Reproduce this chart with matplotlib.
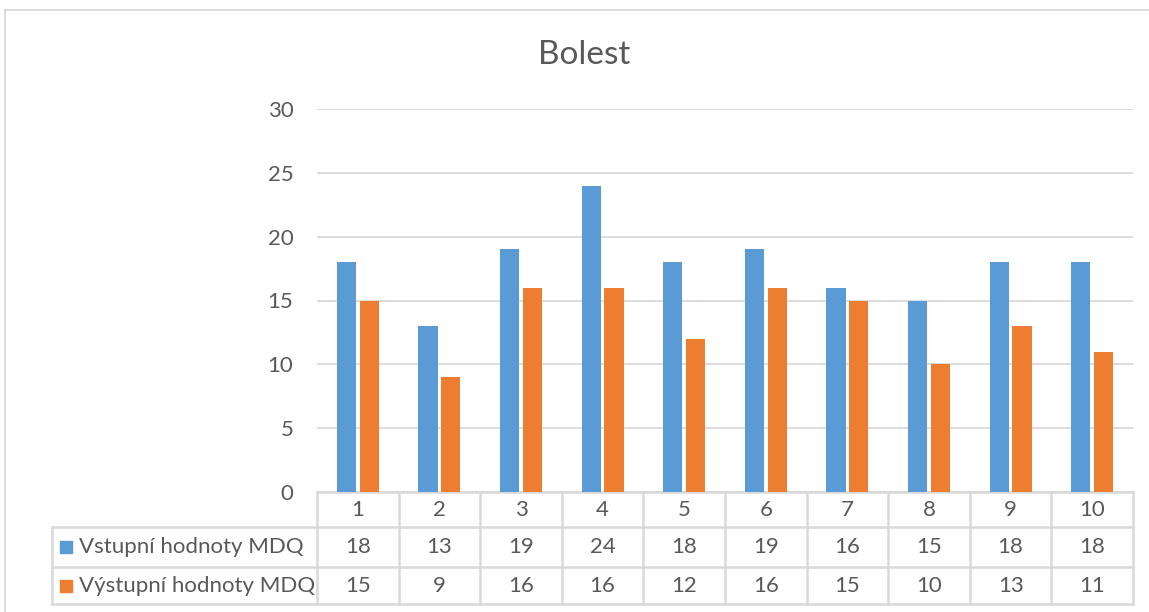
import matplotlib
matplotlib.use('Agg')
import matplotlib.pyplot as plt
import matplotlib.transforms as mtransforms
from matplotlib.patches import Rectangle
import numpy as np

categories = ['1', '2', '3', '4', '5', '6', '7', '8', '9', '10']
vstup = [18, 13, 19, 24, 18, 19, 16, 15, 18, 18]
vystup = [15, 9, 16, 16, 12, 16, 15, 10, 13, 11]
series_names = ['Vstupní hodnoty MDQ', 'Výstupní hodnoty MDQ']
yticks = [0, 5, 10, 15, 20, 25, 30]

blue = '#5B9BD5'
orange = '#ED7D31'
txt = '#595959'
grid = '#d9d9d9'

plt.rcParams['font.family'] = ['Lato', 'DejaVu Sans']

W, H = 1149, 612
fig = plt.figure(figsize=(W / 100, H / 100), dpi=100)

def fx(px):
    return px / W

def fy(py):
    return 1 - py / H

# outer chart border
fig.patches.append(Rectangle((fx(5), fy(640)), fx(1160) - fx(5), fy(10) - fy(640),
                             transform=fig.transFigure, fill=False,
                             edgecolor=grid, linewidth=1.3))

fig.text(fx(584), fy(55), 'Bolest', ha='center', va='center', fontsize=24, color=txt)

ax = fig.add_axes([fx(317), fy(492), fx(1133) - fx(317), fy(109) - fy(492)])
x = np.arange(len(categories))
w = 0.235
ax.bar(x - 0.14, vstup, w, color=blue, zorder=3)
ax.bar(x + 0.14, vystup, w, color=orange, zorder=3)
ax.set_xlim(-0.5, len(categories) - 0.5)
ax.set_ylim(0, 30)
ax.set_yticks(yticks)
ax.set_xticks([])
ax.grid(axis='y', color=grid, linewidth=1.3, zorder=0)
for s in ax.spines.values():
    s.set_visible(False)
ax.tick_params(axis='y', length=0, pad=17, labelsize=16, labelcolor=txt)

# data table under the plot
tr = mtransforms.blended_transform_factory(ax.transData, ax.transAxes)
hpx = 492 - 109
rows = [(492 - y) / hpx for y in (492, 527, 567, 604)]
left = -0.5 + (52 - 317) / 816 * len(categories)
right = len(categories) - 0.5
lk = dict(color=grid, linewidth=1.8, transform=tr, clip_on=False)
ax.plot([-0.5, right], [rows[0]] * 2, **lk)
for r in rows[1:]:
    ax.plot([left, right], [r] * 2, **lk)
ax.plot([left, left], [rows[1], rows[3]], **lk)
for i in range(len(categories) + 1):
    ax.plot([i - 0.5, i - 0.5], [rows[0], rows[3]], **lk)

tk = dict(transform=tr, ha='center', va='center', fontsize=16, color=txt, clip_on=False)
mid = [(rows[i] + rows[i + 1]) / 2 for i in range(3)]
for i, c in enumerate(categories):
    ax.text(i, mid[0], c, **tk)
    ax.text(i, mid[1], str(vstup[i]), **tk)
    ax.text(i, mid[2], str(vystup[i]), **tk)

sq = 12 / 816 * len(categories)
for k, (name, col) in enumerate(zip(series_names, [blue, orange])):
    ym = mid[k + 1]
    ax.add_patch(Rectangle((left + 8 / 81.6, ym - 6 / hpx), sq, 12 / hpx,
                           transform=tr, color=col, clip_on=False))
    ax.text(left + 27 / 81.6, ym, name, transform=tr, ha='left', va='center',
            fontsize=16, color=txt, clip_on=False)

fig.savefig('out.png', dpi=100)
